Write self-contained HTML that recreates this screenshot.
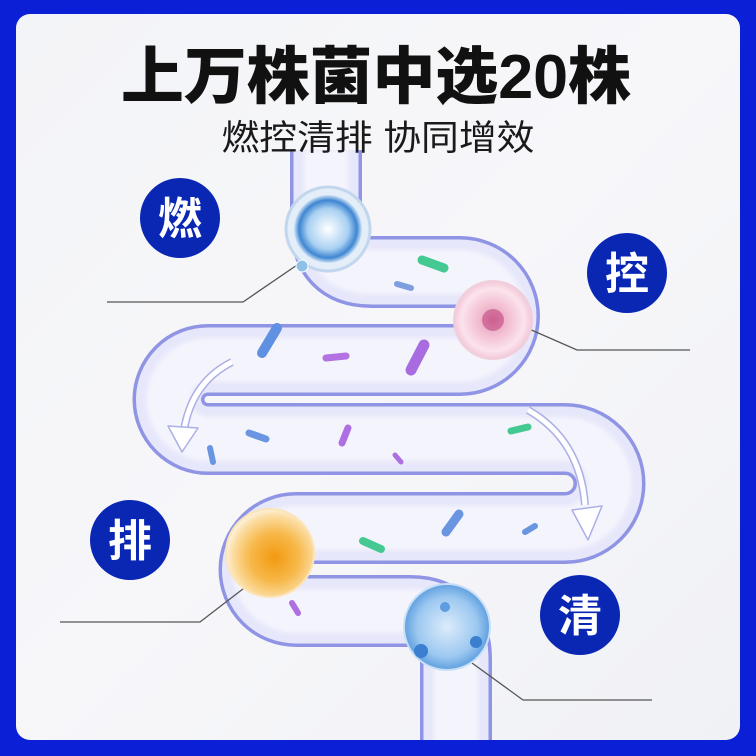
<!DOCTYPE html>
<html><head><meta charset="utf-8">
<style>
html,body{margin:0;padding:0;}
body{width:756px;height:756px;overflow:hidden;background:#0b1fd6;}
svg{display:block;}
</style></head><body>
<svg width="756" height="756" viewBox="0 0 756 756" xmlns="http://www.w3.org/2000/svg">
<defs>
<linearGradient id="bg" x1="0" y1="0" x2="1" y2="1">
<stop offset="0" stop-color="#f3f4f7"/><stop offset="0.5" stop-color="#f7f7fa"/><stop offset="1" stop-color="#f0f1f5"/>
</linearGradient>
<radialGradient id="b1" cx="0.5" cy="0.5" r="0.5"><stop offset="0" stop-color="#ffffff"/><stop offset="0.6" stop-color="#a9d0f2"/><stop offset="0.85" stop-color="#3f86d2"/><stop offset="1" stop-color="#cfe3f6"/></radialGradient>
<radialGradient id="b2" cx="0.5" cy="0.5" r="0.5"><stop offset="0" stop-color="#d9709a"/><stop offset="0.3" stop-color="#f0b5cb"/><stop offset="0.8" stop-color="#fbe3ec"/><stop offset="1" stop-color="#f2c8d8"/></radialGradient>
<radialGradient id="b3" cx="0.55" cy="0.55" r="0.55"><stop offset="0" stop-color="#f29a10"/><stop offset="0.5" stop-color="#f7b84a"/><stop offset="0.85" stop-color="#fbdca0"/><stop offset="1" stop-color="#fdf0d8"/></radialGradient>
<radialGradient id="b4" cx="0.5" cy="0.5" r="0.5"><stop offset="0" stop-color="#dcecfb"/><stop offset="0.7" stop-color="#9cc8f0"/><stop offset="1" stop-color="#5f9fe0"/></radialGradient>
<filter id="bl"><feGaussianBlur stdDeviation="2"/></filter>
</defs>
<rect x="16" y="14" width="724" height="726" rx="14" fill="url(#bg)"/>
<g fill="none" stroke-linecap="butt" stroke-linejoin="round">
<path id="gut" d="M326,150 V225 Q326,272 372,272 H460 A44,44 0 0 1 460,360 H208 A39.5,39.5 0 0 0 208,439 H565 A44.5,44.5 0 0 1 565,528 H296 A41.5,41.5 0 0 0 296,611 H410 Q456,611 456,660 V745" stroke="#8f95e4" stroke-width="72"/>
<path d="M326,150 V225 Q326,272 372,272 H460 A44,44 0 0 1 460,360 H208 A39.5,39.5 0 0 0 208,439 H565 A44.5,44.5 0 0 1 565,528 H296 A41.5,41.5 0 0 0 296,611 H410 Q456,611 456,660 V745" stroke="#e6e7fa" stroke-width="65"/>
<path d="M326,150 V225 Q326,272 372,272 H460 A44,44 0 0 1 460,360 H208 A39.5,39.5 0 0 0 208,439 H565 A44.5,44.5 0 0 1 565,528 H296 A41.5,41.5 0 0 0 296,611 H410 Q456,611 456,660 V745" stroke="#f4f4fd" stroke-width="44" filter="url(#bl)"/>
</g>
<rect x="16" y="740" width="724" height="16" fill="#0b1fd6"/>
<!-- bacteria -->
<g stroke-linecap="round" fill="none">
<line x1="422" y1="260" x2="444" y2="268" stroke="#45c992" stroke-width="9"/>
<line x1="397" y1="284" x2="411" y2="288" stroke="#7d9fe0" stroke-width="6"/>
<line x1="500" y1="285" x2="506" y2="285" stroke="#45c992" stroke-width="5"/>
<line x1="262" y1="353" x2="277" y2="328" stroke="#5f90e2" stroke-width="10"/>
<line x1="326" y1="358" x2="346" y2="356" stroke="#b272e2" stroke-width="7"/>
<line x1="411" y1="370" x2="424" y2="345" stroke="#a86be0" stroke-width="11"/>
<line x1="210" y1="448" x2="213" y2="462" stroke="#6a95e0" stroke-width="6"/>
<line x1="249" y1="433" x2="266" y2="439" stroke="#6a95e0" stroke-width="7"/>
<line x1="342" y1="443" x2="348" y2="428" stroke="#ad6fe2" stroke-width="7"/>
<line x1="395" y1="455" x2="401" y2="462" stroke="#ad6fe2" stroke-width="5"/>
<line x1="511" y1="431" x2="528" y2="427" stroke="#45c992" stroke-width="7"/>
<line x1="446" y1="532" x2="459" y2="514" stroke="#6a95e0" stroke-width="9"/>
<line x1="525" y1="532" x2="535" y2="526" stroke="#6a95e0" stroke-width="6"/>
<line x1="363" y1="541" x2="381" y2="549" stroke="#45c992" stroke-width="8"/>
<line x1="292" y1="603" x2="298" y2="613" stroke="#ad6fe2" stroke-width="6"/>
</g>
<!-- arrows -->
<g stroke-linejoin="round">
<path d="M232,362 Q192,382 184,430" fill="none" stroke="#aab0e6" stroke-width="8"/>
<path d="M232,362 Q192,382 184,430" fill="none" stroke="#fff" stroke-width="5"/>
<polygon points="168,426 198,428 182,452" fill="#fff" stroke="#aab0e6" stroke-width="1.5"/>
<path d="M528,410 Q580,440 585,505" fill="none" stroke="#aab0e6" stroke-width="8"/>
<path d="M528,410 Q580,440 585,505" fill="none" stroke="#fff" stroke-width="5"/>
<polygon points="572,510 602,506 588,540" fill="#fff" stroke="#aab0e6" stroke-width="1.5"/>
</g>
<!-- leader lines -->
<g stroke="#555" stroke-width="1.3" fill="none">
<polyline points="107,302 243,302 300,263"/>
<polyline points="690,350 577,350 520,325"/>
<polyline points="60,622 200,622 252,582"/>
<polyline points="652,700 523,700 472,663"/>
</g>
<!-- balls -->
<circle cx="328" cy="229" r="42" fill="#e4eef9" stroke="#c2d6ee" stroke-width="3"/>
<circle cx="328" cy="229" r="34" fill="url(#b1)"/>
<circle cx="302" cy="266" r="6" fill="#8fc0ea" stroke="#fff"/>
<circle cx="493" cy="320" r="39" fill="url(#b2)" stroke="#f0cfdc" stroke-width="2"/>
<circle cx="493" cy="320" r="11" fill="#c85a8c" opacity="0.7"/>
<circle cx="270" cy="553" r="44" fill="url(#b3)" stroke="#fbe4b8" stroke-width="2"/>
<circle cx="447" cy="627" r="43" fill="url(#b4)" stroke="#c8e0f6" stroke-width="2"/>
<circle cx="421" cy="651" r="7" fill="#3b7fd0"/>
<circle cx="476" cy="642" r="6" fill="#3b7fd0"/>
<circle cx="445" cy="607" r="5" fill="#5f9be0"/>
<!-- label circles -->
<g fill="#0a27b4">
<circle cx="180" cy="218" r="40"/>
<circle cx="627" cy="273" r="40"/>
<circle cx="130" cy="540" r="40"/>
<circle cx="580" cy="615" r="40"/>
</g>
<g fill="#fff" font-family="Liberation Sans, Noto Sans CJK SC, sans-serif" font-weight="700" font-size="44" text-anchor="middle">
<text x="180" y="234">燃</text>
<text x="627" y="289">控</text>
<text x="130" y="556">排</text>
<text x="580" y="631">清</text>
</g>
<text x="376" y="98" text-anchor="middle" font-family="Liberation Sans, Noto Sans CJK SC, sans-serif" font-weight="900" font-size="62" fill="#111" textLength="510" lengthAdjust="spacingAndGlyphs">上万株菌中选20株</text>
<text x="378" y="150" text-anchor="middle" font-family="Liberation Sans, Noto Sans CJK SC, sans-serif" font-size="35" fill="#1a1a1a" textLength="313" lengthAdjust="spacingAndGlyphs">燃控清排 协同增效</text>
</svg>
</body></html>
